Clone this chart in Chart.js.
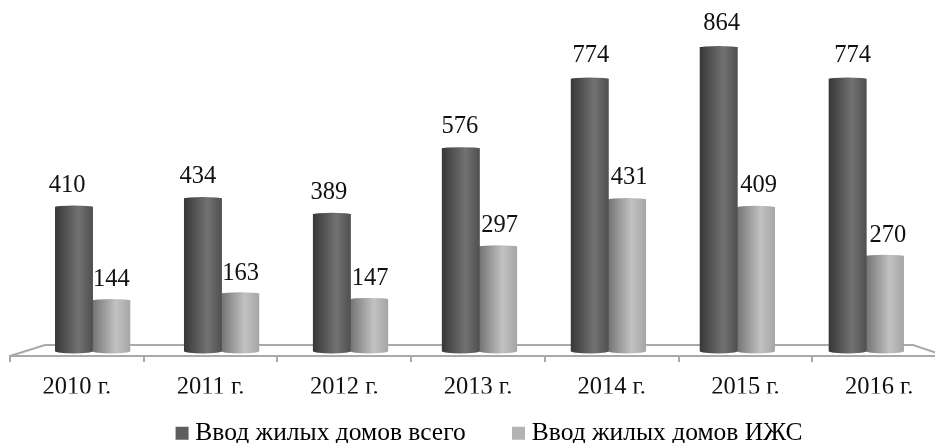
<!DOCTYPE html>
<html>
<head>
<meta charset="utf-8">
<style>
  html, body { margin: 0; padding: 0; background: #fff; overflow: hidden; }
  #wrap { width: 935px; height: 443px; overflow: hidden; }
  #chart { filter: blur(0.4px); }
</style>
<script src="https://cdn.jsdelivr.net/npm/chart.js@4"></script>
</head>
<body>
<div id="wrap"><canvas id="chart" width="946" height="443"></canvas></div>
<script>
const categories = ['2010 г.', '2011 г.', '2012 г.', '2013 г.', '2014 г.', '2015 г.', '2016 г.'];
const totalValues = [410, 434, 389, 576, 774, 864, 774];
const ihsValues = [144, 163, 147, 297, 431, 409, 270];
const seriesNames = ['Ввод жилых домов всего', 'Ввод жилых домов ИЖС'];
const swatchColors = ['#5e5e5e', '#b4b4b4'];
const darkStops = ['#383838', '#727272', '#505050'];
const lightStops = ['#747474', '#c2c2c2', '#a6a6a6'];

const FONT = '"Liberation Serif", "Times New Roman", serif';
const BAR_W = 37.3;
const FLOOR_Y = 356;

const toPoints = (values) => values.map((v, i) => ({ x: i, y: v }));

const cylinderGradient = (c, x, stops) => {
  const g = c.createLinearGradient(x - BAR_W / 2, 0, x + BAR_W / 2, 0);
  g.addColorStop(0, stops[0]);
  g.addColorStop(0.62, stops[1]);
  g.addColorStop(1, stops[2]);
  return g;
};

// each bar gets its own left to right gradient so it reads as a cylinder
const cylinderFill = (stops, side) => (ctx) => {
  const x = ctx.chart.scales.x2.getPixelForValue(ctx.dataIndex) + side * BAR_W / 2;
  return cylinderGradient(ctx.chart.ctx, x, stops);
};

// floor of the 3d plot, behind the bars
const floorPlugin = {
  id: 'floor',
  beforeDatasetsDraw(chart) {
    const { ctx, chartArea: a } = chart;
    ctx.save();
    ctx.strokeStyle = '#a9a9a9';
    ctx.lineWidth = 2;
    ctx.beginPath();
    ctx.moveTo(a.left, a.bottom);
    ctx.lineTo(a.left + 35, a.bottom - 11);
    ctx.lineTo(a.right - 33, a.bottom - 11);
    ctx.lineTo(a.right, a.bottom);
    ctx.stroke();
    ctx.restore();
  },
};

// round caps of the cylinders and the value labels
const capsPlugin = {
  id: 'caps',
  afterDatasetsDraw(chart) {
    const { ctx } = chart;
    const stopsBySeries = [darkStops, lightStops];
    ctx.save();
    chart.data.datasets.forEach((ds, di) => {
      chart.getDatasetMeta(di).data.forEach((bar, i) => {
        ctx.fillStyle = cylinderGradient(ctx, bar.x, stopsBySeries[di]);
        ctx.beginPath();
        ctx.ellipse(bar.x, bar.base, BAR_W / 2, 2.5, 0, 0, Math.PI * 2);
        ctx.fill();
        ctx.beginPath();
        ctx.ellipse(bar.x, bar.y, BAR_W / 2, 1.5, 0, 0, Math.PI * 2);
        ctx.fill();

        const v = ds.data[i].y;
        // labels follow the front plane, so they drift against the bars
        const shift = di === 0 ? -7 + i * 2 : i * 0.5;
        ctx.fillStyle = '#111';
        ctx.font = '24.5px ' + FONT;
        ctx.textAlign = 'center';
        ctx.textBaseline = 'alphabetic';
        ctx.fillText(String(v), bar.x + shift, bar.y - 13.5 - v * 0.004);
      });
    });
    ctx.restore();
  },
};

// the library only centres the legend, the reference has it further right and lower
const legendShift = {
  id: 'legendShift',
  beforeDraw(chart) {
    if (chart.legend._shifted) return;
    chart.legend.left += 14;
    chart.legend.right += 14;
    chart.legend.top += 13;
    chart.legend.bottom += 13;
    chart.legend._shifted = true;
  },
};

new Chart(document.getElementById('chart'), {
  type: 'bar',
  data: {
    datasets: [
      { label: seriesNames[0], data: toPoints(totalValues), xAxisID: 'x2', barThickness: BAR_W, backgroundColor: cylinderFill(darkStops, -1) },
      { label: seriesNames[1], data: toPoints(ihsValues), xAxisID: 'x2', barThickness: BAR_W, backgroundColor: cylinderFill(lightStops, 1) },
    ],
  },
  options: {
    responsive: false,
    animation: false,
    layout: { padding: { left: 10, right: 0, top: 0, bottom: 0 } },
    plugins: {
      tooltip: { enabled: false },
      legend: {
        position: 'bottom',
        labels: {
          font: { family: FONT, size: 25.5 },
          color: '#111',
          usePointStyle: true,
          pointStyle: 'rect',
          boxWidth: 1,
          boxHeight: 13,
          padding: 14,
          generateLabels: () => seriesNames.map((name, i) => ({
            // non breaking spaces keep the wide gap between the two entries
            text: i === 0 ? name + '\u00A0\u00A0\u00A0\u00A0\u00A0\u00A0' : name,
            fillStyle: swatchColors[i],
            strokeStyle: swatchColors[i],
            lineWidth: 0,
            pointStyle: 'rect',
            datasetIndex: i,
          })),
        },
      },
    },
    scales: {
      x: {
        type: 'category',
        labels: categories,
        offset: true,
        position: 'bottom',
        afterFit: (s) => { s.height = s.chart.height - FLOOR_Y - s.chart.legend.height; },
        grid: { drawOnChartArea: false, drawTicks: true, tickLength: 6, color: '#a9a9a9', lineWidth: 2, offset: true },
        border: { color: '#a9a9a9', width: 2 },
        ticks: { color: '#111', font: { family: FONT, size: 24.5 }, padding: 11, maxRotation: 0, autoSkip: false },
      },
      // bars stand on the back of the floor, so their spacing is tighter than the tick spacing
      x2: {
        type: 'linear',
        display: false,
        offset: false,
        grid: { offset: false },
        min: -0.641,
        max: 6.618,
      },
      y: {
        display: false,
        min: -14,
        max: 999,
      },
    },
  },
  plugins: [floorPlugin, capsPlugin, legendShift],
});
</script>
</body>
</html>
